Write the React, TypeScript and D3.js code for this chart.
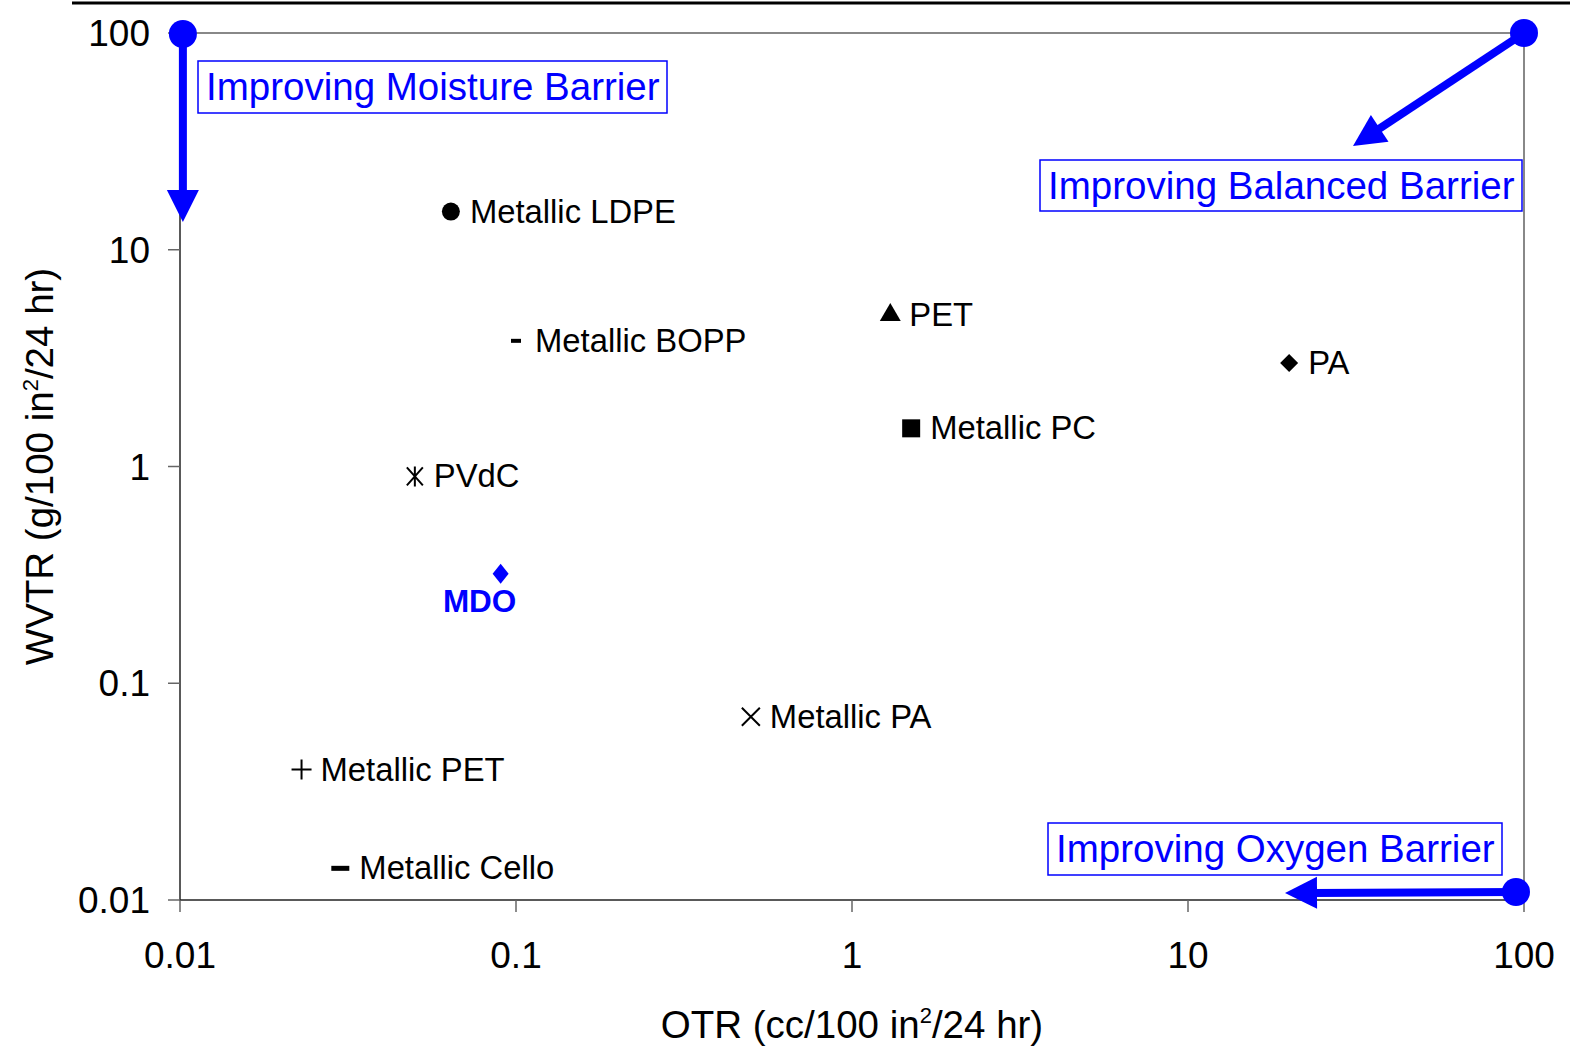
import React from "react";
import * as d3 from "d3";

// barrier properties
const materials = [
  "Metallic LDPE",
  "Metallic BOPP",
  "PVdC",
  "PET",
  "PA",
  "Metallic PC",
  "Metallic PA",
  "Metallic PET",
  "Metallic Cello",
];
const otr = [0.064, 0.1, 0.05, 1.3, 20, 1.5, 0.5, 0.023, 0.03];
const wvtr = [15, 3.8, 0.9, 5, 3, 1.5, 0.07, 0.04, 0.014];
const markerKinds = [
  "circle",
  "dash",
  "asterisk",
  "triangle",
  "diamond",
  "square",
  "times",
  "plus",
  "bigDash",
];

const mdoOtr = 0.09;
const mdoWvtr = 0.32;

const xTicks = [0.01, 0.1, 1, 10, 100];
const yTicks = [0.01, 0.1, 1, 10, 100];
const tickLabels = ["0.01", "0.1", "1", "10", "100"];

const W = 1570;
const H = 1047;
const margin = { top: 33, right: 46, bottom: 147, left: 180 };
const FONT = "'Liberation Sans', Arial, sans-serif";
const BLUE = "#0000FF";

function Marker({ kind, x, y }: { kind: string; x: number; y: number }) {
  const t = `translate(${x},${y})`;
  switch (kind) {
    case "circle":
      return <circle cx={x} cy={y} r={9} fill="#000" />;
    case "dash":
      return <rect x={x - 5} y={y - 2} width={10} height={4} fill="#000" />;
    case "bigDash":
      return <rect x={x - 9} y={y - 2.5} width={18} height={5} fill="#000" />;
    case "triangle":
      return (
        <path transform={t} d={d3.symbol().type(d3.symbolTriangle).size(190)() || ""} fill="#000" />
      );
    case "square":
      return <rect x={x - 9} y={y - 9} width={18} height={18} fill="#000" />;
    case "diamond":
      return <path transform={t} d="M0,-9L9,0L0,9L-9,0Z" fill="#000" />;
    case "asterisk":
      return (
        <path
          transform={t}
          d="M-8,-9L8,9M-8,9L8,-9M0,-10L0,10"
          fill="none"
          stroke="#000"
          strokeWidth={2}
        />
      );
    case "times":
      return (
        <path transform={t} d="M-9,-9L9,9M-9,9L9,-9" fill="none" stroke="#000" strokeWidth={2} />
      );
    case "plus":
      return (
        <path transform={t} d="M-10,0L10,0M0,-10L0,10" fill="none" stroke="#000" strokeWidth={2} />
      );
    default:
      return null;
  }
}

function Arrow({ x0, y0, x1, y1 }: { x0: number; y0: number; x1: number; y1: number }) {
  const dx = x1 - x0;
  const dy = y1 - y0;
  const len = Math.hypot(dx, dy);
  const ux = dx / len;
  const uy = dy / len;
  const headLen = 32;
  const half = 16;
  const bx = x1 - ux * headLen;
  const by = y1 - uy * headLen;
  const px = -uy * half;
  const py = ux * half;
  return (
    <g>
      <line x1={x0} y1={y0} x2={bx + ux * 4} y2={by + uy * 4} stroke={BLUE} strokeWidth={8} />
      <path d={`M${x1},${y1}L${bx + px},${by + py}L${bx - px},${by - py}Z`} fill={BLUE} />
      <circle cx={x0} cy={y0} r={14} fill={BLUE} />
    </g>
  );
}

function Note({ x, y, w, h, text }: { x: number; y: number; w: number; h: number; text: string }) {
  return (
    <g>
      <rect x={x} y={y} width={w} height={h} fill="#fff" stroke={BLUE} strokeWidth={1.5} />
      <text x={x + 8} y={y + h / 2 + 13} fill={BLUE} fontSize={38.5} fontFamily={FONT}>
        {text}
      </text>
    </g>
  );
}

export default function App() {
  const x = d3
    .scaleLog()
    .domain([0.01, 100])
    .range([margin.left, W - margin.right]);
  const y = d3
    .scaleLog()
    .domain([0.01, 100])
    .range([H - margin.bottom, margin.top]);

  const [x0, x1] = x.range();
  const [y0, y1] = y.range();

  return (
    <svg
      width={W}
      height={H}
      viewBox={`0 0 ${W} ${H}`}
      style={{ position: "absolute", left: 0, top: 0, background: "#fff" }}
      fontFamily={FONT}
    >
      <rect width={W} height={H} fill="#fff" />
      <line x1={72} y1={3} x2={W} y2={3} stroke="#000" strokeWidth={3} />

      {/* frame */}
      <line x1={x0} y1={y1} x2={x1} y2={y1} stroke="#888" strokeWidth={2} />
      <line x1={x1} y1={y1} x2={x1} y2={y0} stroke="#888" strokeWidth={2} />
      <line x1={x0} y1={y0} x2={x1} y2={y0} stroke="#222" strokeWidth={1.5} />
      <line x1={x0} y1={y0 + 1} x2={x0} y2={y1} stroke="#222" strokeWidth={1.5} />

      {/* y axis */}
      {yTicks.map((t, i) => (
        <g key={`y${i}`}>
          <line x1={x0 - 12} x2={x0} y1={y(t)} y2={y(t)} stroke="#666" strokeWidth={1.5} />
          <text x={x0 - 30} y={y(t) + 13} textAnchor="end" fontSize={37} fill="#000">
            {tickLabels[i]}
          </text>
        </g>
      ))}
      {/* x axis */}
      {xTicks.map((t, i) => (
        <g key={`x${i}`}>
          <line x1={x(t)} x2={x(t)} y1={y0} y2={y0 + 12} stroke="#666" strokeWidth={1.5} />
          <text x={x(t)} y={y0 + 68} textAnchor="middle" fontSize={37} fill="#000">
            {tickLabels[i]}
          </text>
        </g>
      ))}

      <text x={(x0 + x1) / 2} y={1038} textAnchor="middle" fontSize={38.5} fill="#000">
        OTR (cc/100 in
        <tspan dy={-15} fontSize={22}>2</tspan>
        <tspan dy={15}>/24 hr)</tspan>
      </text>
      <text
        transform={`translate(53,${(y0 + y1) / 2}) rotate(-90)`}
        textAnchor="middle"
        fontSize={38.5}
        fill="#000"
      >
        WVTR (g/100 in
        <tspan dy={-15} fontSize={22}>2</tspan>
        <tspan dy={15}>/24 hr)</tspan>
      </text>

      {/* data */}
      {materials.map((m, i) => (
        <g key={m}>
          <Marker kind={markerKinds[i]} x={x(otr[i])} y={y(wvtr[i])} />
          <text x={x(otr[i]) + 19} y={y(wvtr[i]) + 11} fontSize={32.8} fill="#000">
            {m}
          </text>
        </g>
      ))}
      <path
        transform={`translate(${x(mdoOtr)},${y(mdoWvtr)})`}
        d="M0,-10L8,0L0,10L-8,0Z"
        fill={BLUE}
      />
      <text
        x={x(mdoOtr) - 21}
        y={y(mdoWvtr) + 38}
        textAnchor="middle"
        fontSize={31.5}
        fontWeight="bold"
        fill={BLUE}
      >
        MDO
      </text>

      {/* annotations */}
      <Arrow x0={x(0.0102)} y0={y(100) + 1} x1={x(0.0102)} y1={222} />
      <Arrow x0={x(100)} y0={y(100)} x1={1353} y1={146} />
      <Arrow x0={x(100) - 8} y0={y(0.01) - 8} x1={1285} y1={893} />

      <Note x={198} y={61} w={469} h={52} text="Improving Moisture Barrier" />
      <Note x={1040} y={160} w={482} h={51} text="Improving Balanced Barrier" />
      <Note x={1048} y={823} w={454} h={52} text="Improving Oxygen Barrier" />
    </svg>
  );
}
